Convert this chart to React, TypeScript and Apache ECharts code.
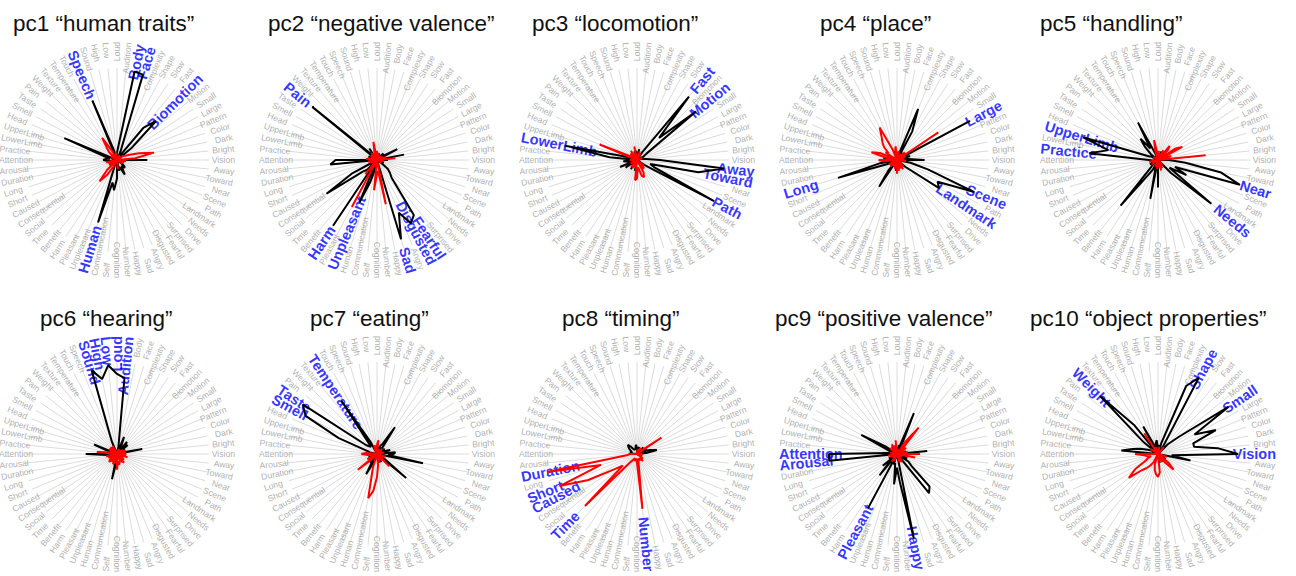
import React, { useEffect, useRef } from "react";
import * as echarts from "echarts";

// 64 semantic attributes, clockwise from the top
const categories = [
  "Loud", "Audition", "Body", "Face", "Complexity", "Shape", "Slow", "Fast",
  "Biomotion", "Motion", "Small", "Large", "Pattern", "Color", "Dark", "Bright",
  "Vision", "Away", "Toward", "Near", "Scene", "Path", "Landmark", "Needs",
  "Drive", "Surprised", "Fearful", "Disgusted", "Angry", "Sad", "Happy", "Number",
  "Cognition", "Self", "Communication", "Human", "Unpleasant", "Pleasant", "Harm", "Benefit",
  "Time", "Social", "Consequential", "Caused", "Short", "Long", "Duration", "Arousal",
  "Attention", "Practice", "LowerLimb", "UpperLimb", "Head", "Smell", "Taste", "Pain",
  "Weight", "Texture", "Temperature", "Touch", "Speech", "Sound", "High", "Low",
];

const titles = [
  "pc1 “human traits”", "pc2 “negative valence”", "pc3 “locomotion”", "pc4 “place”", "pc5 “handling”",
  "pc6 “hearing”", "pc7 “eating”", "pc8 “timing”", "pc9 “positive valence”", "pc10 “object properties”",
];

// loadings (positive = black, negative = red), in category order
const pc1 = [
  0.08, 0.15, 0.98, 0.97, 0.1, -0.06, 0.05, 0.45,
  0.6, 0.2, -0.08, -0.1, -0.15, -0.25, -0.41, -0.2,
  0.33, -0.1, 0.08, -0.06, -0.08, -0.05, -0.07, 0.1,
  0.12, 0.08, 0.1, 0.18, 0.1, 0.08, 0.12, -0.1,
  0.2, 0.33, 0.25, 0.71, 0.06, -0.08, -0.2, -0.3,
  -0.15, 0.1, -0.1, 0.06, -0.1, -0.08, -0.12, 0.1,
  0.15, 0.12, 0.08, 0.15, 0.62, -0.06, -0.08, 0.05,
  -0.12, -0.18, -0.29, -0.1, 0.7, 0.1, -0.06, -0.08,
];
const pc2 = [
  -0.1, 0.06, -0.08, 0.08, -0.06, 0.05, -0.05, 0.06,
  0.1, -0.07, 0.08, 0.25, -0.06, -0.1, 0.3, -0.2,
  0.12, -0.08, 0.06, -0.05, 0.08, -0.06, 0.05, 0.15,
  0.2, 0.25, 0.72, 0.78, 0.62, 0.9, -0.49, -0.12,
  -0.15, -0.33, 0.1, 0.25, 0.5, -0.58, 0.86, -0.2,
  0.15, 0.2, 0.66, 0.3, -0.08, 0.08, -0.1, 0.51,
  0.45, -0.12, -0.08, 0.06, 0.1, -0.06, -0.08, 0.91,
  0.1, -0.1, 0.15, -0.08, -0.06, -0.1, -0.2, 0.08,
];
const pc3 = [
  0.06, -0.05, 0.12, -0.1, 0.05, -0.08, 0.1, 0.89,
  0.34, 0.83, 0.12, 0.08, -0.05, -0.06, 0.05, 0.1,
  0.25, 0.95, 0.68, 0.15, 0.2, 0.95, 0.1, -0.1,
  -0.08, -0.12, 0.08, -0.15, -0.2, -0.18, -0.1, -0.08,
  -0.2, -0.22, 0.12, -0.08, 0.06, -0.1, 0.12, -0.1,
  0.08, -0.06, 0.15, -0.08, 0.2, -0.06, 0.1, 0.15,
  -0.08, 0.3, 0.8, 0.12, -0.44, -0.1, -0.06, 0.08,
  -0.1, 0.05, -0.12, 0.06, -0.08, 0.1, -0.15, 0.1,
];
const pc4 = [
  0.08, -0.06, -0.1, 0.06, 0.6, 0.35, -0.08, 0.1,
  -0.12, 0.06, -0.54, 0.9, -0.1, 0.15, -0.08, 0.12,
  0.3, -0.1, 0.15, 0.35, 0.91, 0.5, 0.55, 0.12,
  -0.1, 0.08, -0.12, -0.06, -0.1, 0.08, -0.12, 0.1,
  -0.15, 0.12, -0.1, -0.08, 0.06, -0.08, 0.35, 0.15,
  -0.1, 0.08, -0.06, -0.1, 0.12, 0.67, 0.2, -0.15,
  -0.2, 0.15, -0.12, -0.29, -0.2, 0.08, -0.15, -0.12,
  -0.2, -0.25, -0.3, -0.4, -0.12, 0.08, -0.1, -0.15,
];
const pc5 = [
  0.08, -0.1, 0.06, -0.08, 0.1, -0.12, 0.1, -0.2,
  -0.15, 0.1, -0.22, -0.3, 0.08, -0.15, 0.1, -0.52,
  0.12, 0.3, 0.7, 0.93, 0.2, 0.35, 0.15, 0.75,
  0.2, -0.08, 0.06, -0.1, 0.08, -0.12, 0.06, -0.08,
  0.3, -0.1, 0.43, 0.1, -0.08, 0.12, 0.2, 0.64,
  0.1, 0.06, -0.08, 0.1, -0.06, 0.08, -0.1, 0.06,
  0.1, 0.75, 0.55, 0.85, 0.1, 0.08, -0.06, 0.1,
  0.2, 0.3, 0.15, 0.46, 0.08, -0.1, -0.22, -0.08,
];
const pc6 = [
  0.87, 0.83, 0.08, -0.06, 0.2, 0.1, -0.06, 0.17,
  0.12, 0.15, -0.08, 0.1, -0.1, 0.06, 0.28, -0.1,
  0.1, -0.1, 0.08, -0.12, 0.06, -0.08, 0.05, -0.1,
  0.08, -0.12, -0.1, 0.06, -0.08, -0.1, -0.12, -0.08,
  -0.17, 0.1, 0.28, -0.1, -0.12, 0.06, -0.1, -0.08,
  -0.12, -0.1, 0.06, -0.08, -0.1, -0.06, -0.12, 0.1,
  0.34, -0.22, -0.1, 0.08, 0.27, -0.08, -0.1, 0.06,
  -0.1, -0.08, 0.06, -0.1, 0.15, 0.95, 0.83, 0.97,
];
const pc7 = [
  -0.1, -0.15, 0.08, -0.06, 0.1, 0.12, 0.35, 0.1,
  -0.08, 0.06, 0.1, -0.06, 0.08, 0.15, -0.08, 0.2,
  0.18, 0.12, 0.51, -0.1, 0.06, -0.08, 0.1, 0.41,
  -0.19, 0.06, -0.08, 0.1, -0.06, -0.1, 0.08, -0.12,
  -0.25, -0.4, -0.49, -0.15, 0.1, 0.25, 0.08, 0.12,
  -0.1, -0.27, 0.08, -0.12, 0.1, -0.08, 0.06, -0.1,
  -0.17, -0.12, 0.08, 0.1, 0.45, 0.88, 0.97, 0.15,
  0.12, 0.1, 0.7, 0.15, -0.08, -0.1, 0.06, -0.08,
];
const pc8 = [
  0.06, -0.05, 0.05, 0.08, -0.06, 0.05, -0.08, 0.06,
  0.1, -0.06, -0.32, 0.12, 0.08, 0.15, 0.22, 0.1,
  -0.06, 0.05, -0.05, 0.06, -0.05, 0.05, -0.06, -0.08,
  -0.06, -0.1, -0.05, -0.08, -0.06, -0.05, -0.08, -0.6,
  -0.1, -0.06, -0.05, -0.08, -0.05, -0.06, -0.08, -0.12,
  -0.8, -0.2, -0.3, -0.6, -0.91, -0.41, -1.0, -0.1,
  -0.08, 0.06, 0.05, 0.08, 0.06, 0.08, 0.1, 0.12,
  0.14, 0.1, 0.06, 0.05, 0.06, 0.05, 0.08, 0.1,
];
const pc9 = [
  0.08, -0.06, 0.1, 0.06, 0.48, 0.1, -0.15, -0.37,
  -0.1, 0.08, -0.12, 0.06, -0.08, 0.1, -0.12, 0.33,
  -0.25, 0.1, -0.2, 0.08, 0.12, -0.06, 0.15, 0.2,
  0.5, 0.55, -0.1, -0.08, 0.06, -0.1, 0.94, 0.3,
  0.15, 0.33, 0.1, 0.12, -0.08, 0.67, -0.1, 0.3,
  0.08, 0.2, -0.06, 0.1, -0.08, 0.06, -0.1, 0.74,
  0.74, 0.1, -0.08, 0.06, 0.1, 0.44, 0.15, -0.1,
  0.06, -0.08, 0.1, -0.12, 0.08, -0.1, 0.06, -0.15,
];
const pc10 = [
  0.06, 0.1, -0.08, 0.12, 0.8, 0.94, 0.1, -0.1,
  0.15, 0.3, 0.92, 0.45, 0.68, 0.4, 0.4, 0.65,
  0.87, 0.15, 0.36, -0.1, 0.08, -0.06, 0.1, -0.15,
  -0.24, -0.12, 0.08, -0.1, 0.06, -0.08, 0.1, -0.2,
  -0.25, -0.22, -0.18, -0.12, 0.08, -0.1, -0.15, -0.2,
  -0.25, -0.41, -0.3, -0.15, -0.12, -0.08, -0.12, -0.15,
  -0.25, 0.4, 0.28, 0.2, 0.12, 0.08, -0.1, 0.2,
  0.89, 0.4, -0.27, 0.34, 0.1, -0.08, 0.12, 0.15,
];
const loadings = [pc1, pc2, pc3, pc4, pc5, pc6, pc7, pc8, pc9, pc10];

// attributes written in blue for each component
const highlights = [
  ["Speech", "Body", "Face", "Biomotion", "Human"],
  ["Pain", "Harm", "Unpleasant", "Disgusted", "Fearful", "Sad"],
  ["Fast", "Motion", "LowerLimb", "Away", "Toward", "Path"],
  ["Large", "Long", "Scene", "Landmark"],
  ["UpperLimb", "Practice", "Near", "Needs"],
  ["Sound", "High", "Low", "Loud", "Audition"],
  ["Temperature", "Taste", "Smell"],
  ["Duration", "Short", "Caused", "Time", "Number"],
  ["Attention", "Arousal", "Pleasant", "Happy"],
  ["Weight", "Shape", "Small", "Vision"],
];

// layout
const CX = [117, 377, 637, 897, 1158];
const CY = [160, 454];
const TITLE_X = [13, 268, 532, 820, 1040, 40, 310, 562, 775, 1030];
const TITLE_Y = [12, 307];
const SPOKE_R = 92;
const LABEL_R = 118 / SPOKE_R;
const FONT = "'Liberation Sans', Arial, Helvetica, sans-serif";
const BLUE = "#0000ff";
const GRAY = "#999999";

function buildOption() {
  const n = categories.length;
  const polar: any[] = [];
  const angleAxis: any[] = [];
  const radiusAxis: any[] = [];
  const series: any[] = [];
  const title: any[] = [];

  loadings.forEach((vals, k) => {
    const cx = CX[k % 5];
    const cy = CY[Math.floor(k / 5)];
    polar.push({ center: [cx, cy], radius: SPOKE_R });
    angleAxis.push({
      polarIndex: k, type: "value", min: 0, max: n, interval: 1, startAngle: 90, clockwise: true,
      axisLine: { show: false }, axisTick: { show: false }, axisLabel: { show: false },
      splitLine: { show: true, lineStyle: { color: "#dcdcdc", width: 1 } },
    });
    radiusAxis.push({
      polarIndex: k, type: "value", min: 0, max: 1,
      axisLine: { show: false }, axisTick: { show: false }, axisLabel: { show: false },
      splitLine: { show: false },
    });
    title.push({
      text: titles[k], left: TITLE_X[k], top: TITLE_Y[Math.floor(k / 5)], padding: 0,
      textStyle: { fontSize: 22.5, fontWeight: "normal", color: "#111", fontFamily: FONT },
    });

    // attribute labels
    series.push({
      type: "scatter", coordinateSystem: "polar", polarIndex: k, silent: true, clip: false,
      symbolSize: 1, itemStyle: { color: "rgba(0,0,0,0)" },
      label: { show: true, formatter: "{b}" },
      data: categories.map((name, i) => {
        const a = (i * 360) / n;
        const right = a <= 180;
        const theta = 90 - a;
        const hi = highlights[k].includes(name);
        return {
          name,
          value: [LABEL_R, i],
          label: {
            show: true, position: "inside",
            rotate: right ? theta : theta + 180,
            align: right ? "right" : "left", verticalAlign: "middle",
            color: hi ? BLUE : GRAY, fontSize: hi ? 14.5 : 8.6,
            fontWeight: hi ? "bold" : "normal", fontFamily: FONT,
          },
        };
      }),
    });

    const pos = vals.map((v, i) => [Math.max(v, 0), i]);
    pos.push([Math.max(vals[0], 0), n]);
    const neg = vals.map((v, i) => [Math.max(-v, 0), i]);
    neg.push([Math.max(-vals[0], 0), n]);
    series.push({
      type: "line", coordinateSystem: "polar", polarIndex: k, silent: true,
      symbol: "none", showSymbol: false, data: pos,
      lineStyle: { color: "#000", width: 2 },
    });
    series.push({
      type: "line", coordinateSystem: "polar", polarIndex: k, silent: true,
      symbol: "none", showSymbol: false, data: neg,
      lineStyle: { color: "#ff0000", width: 2 },
    });
  });

  return { animation: false, backgroundColor: "#fff", title, polar, angleAxis, radiusAxis, series };
}

export default function App() {
  const ref = useRef<HTMLDivElement>(null);
  useEffect(() => {
    if (!ref.current) return;
    const chart = echarts.init(ref.current, null, { renderer: "svg" });
    chart.setOption(buildOption());
    return () => chart.dispose();
  }, []);
  return (
    <div
      ref={ref}
      style={{ position: "fixed", left: 0, top: 0, width: 1296, height: 576, background: "#fff" }}
    />
  );
}
